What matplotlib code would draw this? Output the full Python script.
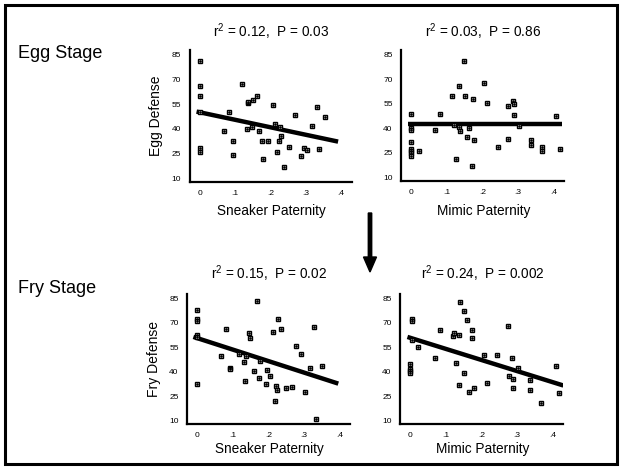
import matplotlib
matplotlib.use("Agg")
import matplotlib.pyplot as plt
import numpy as np
from matplotlib.patches import Rectangle, FancyArrow

plt.rcParams['font.family'] = ['Liberation Sans', 'DejaVu Sans']
plt.rcParams['mathtext.fontset'] = 'custom'
plt.rcParams['mathtext.rm'] = 'Liberation Sans'
plt.rcParams['mathtext.it'] = 'Liberation Sans'

# ---- data ----
egg_sneaker_x = [0.0, 0.0, 0.0, 0.0, 0.0, 0.0, 0.068, 0.083, 0.095, 0.095, 0.120, 0.133, 0.138, 0.138,
                 0.147, 0.152, 0.162, 0.169, 0.175, 0.179, 0.193, 0.207, 0.214, 0.220, 0.225, 0.227,
                 0.229, 0.239, 0.252, 0.269, 0.287, 0.295, 0.305, 0.319, 0.332, 0.337, 0.354]
egg_sneaker_y = [81.0, 66.2, 59.9, 50.4, 28.2, 25.8, 38.7, 50.4, 32.4, 23.9, 67.4, 39.7, 55.5, 56.5,
                 40.9, 57.5, 59.7, 38.7, 32.4, 21.7, 32.6, 54.7, 43.0, 26.0, 32.4, 40.9,
                 35.7, 16.5, 29.2, 48.2, 23.7, 28.2, 27.0, 41.9, 53.5, 28.0, 47.2]

egg_mimic_x = [0.0, 0.0, 0.0, 0.0, 0.0, 0.0, 0.0, 0.0, 0.021, 0.068, 0.082, 0.114, 0.121, 0.126,
               0.133, 0.134, 0.138, 0.147, 0.150, 0.158, 0.162, 0.171, 0.173, 0.176, 0.205, 0.214,
               0.243, 0.273, 0.273, 0.285, 0.289, 0.289, 0.303, 0.336, 0.337, 0.368, 0.367, 0.408, 0.418]
egg_mimic_y = [48.9, 40.2, 38.8, 31.5, 27.4, 26.0, 24.6, 23.2, 26.0, 38.8, 48.9, 59.4, 42.2, 21.2,
               65.5, 41.0, 38.0, 80.9, 59.4, 34.4, 39.9, 16.7, 57.8, 32.5, 67.4, 55.6,
               28.2, 33.3, 53.6, 56.8, 54.6, 48.3, 41.4, 32.5, 29.5, 28.2, 26.0, 47.3, 27.2]

fry_sneaker_x = [0.0, 0.0, 0.0, 0.0, 0.0, 0.0, 0.066, 0.081, 0.092, 0.093, 0.118, 0.131, 0.135, 0.137,
                 0.145, 0.149, 0.160, 0.167, 0.174, 0.177, 0.193, 0.196, 0.204, 0.213, 0.218, 0.223,
                 0.225, 0.226, 0.237, 0.249, 0.267, 0.277, 0.293, 0.303, 0.318, 0.330, 0.333, 0.350]
fry_sneaker_y = [78.1, 72.7, 71.4, 62.7, 61.5, 32.8, 49.8, 66.6, 42.6, 41.5, 50.8, 46.1, 34.1, 49.5,
                 63.6, 61.0, 40.8, 83.3, 36.3, 46.9, 32.5, 41.0, 37.5, 64.6, 22.4, 31.1,
                 28.9, 72.7, 66.6, 30.1, 30.9, 55.8, 51.0, 27.9, 42.3, 67.6, 11.0, 43.7]

fry_mimic_x = [0.004, 0.004, 0.004, 0.0, 0.0, 0.0, 0.0, 0.021, 0.070, 0.084, 0.119, 0.122, 0.129,
               0.136, 0.136, 0.141, 0.150, 0.152, 0.161, 0.164, 0.173, 0.175, 0.178, 0.207, 0.215,
               0.245, 0.275, 0.278, 0.287, 0.290, 0.290, 0.304, 0.337, 0.338, 0.368, 0.409, 0.419]
fry_mimic_y = [72.5, 71.1, 59.6, 45.0, 41.5, 40.3, 39.1, 55.3, 48.8, 65.6, 61.8, 63.8, 45.6,
               62.6, 31.9, 82.6, 77.3, 39.3, 72.1, 27.8, 65.6, 60.6, 29.8, 50.1, 33.1,
               50.1, 67.9, 37.3, 48.8, 35.9, 29.8, 42.5, 34.9, 28.8, 21.1, 43.5, 26.8]

# regression lines: intercept, slope, x range
line_intercepts = [50.0, 42.5, 60.7, 60.9]
line_slopes = [-45.4, 0.0, -70.3, -67.9]
line_x0 = [-0.009, -0.008, -0.011, -0.008]
line_x1 = [0.392, 0.423, 0.397, 0.431]

titles = ["r$^2$ = 0.12,  P = 0.03", "r$^2$ = 0.03,  P = 0.86",
          "r$^2$ = 0.15,  P = 0.02", "r$^2$ = 0.24,  P = 0.002"]
xlabels = ["Sneaker Paternity", "Mimic Paternity", "Sneaker Paternity", "Mimic Paternity"]
ylabels = ["Egg Defense", None, "Fry Defense", None]
row_labels = ["Egg Stage", "Fry Stage"]
xticks = [0, 0.1, 0.2, 0.3, 0.4]
xticklabels = ["0", ".1", ".2", ".3", ".4"]
yticks = [10, 25, 40, 55, 70, 85]

W, H = 621, 468
fig = plt.figure(figsize=(W / 100, H / 100), dpi=100)


def fx(px):
    return px / W


def fy(py):
    return 1 - py / H


# axes boxes in pixels: left, right, top, bottom
boxes = [(189.5, 351.5, 50, 181.5), (401, 564, 50, 180.5),
         (187, 350, 294, 424), (400, 563, 294, 424)]
title_baselines = [36.5, 36.5, 279, 279]
xlabel_baselines = [215, 215, 453, 453]
xs = [egg_sneaker_x, egg_mimic_x, fry_sneaker_x, fry_mimic_x]
ys = [egg_sneaker_y, egg_mimic_y, fry_sneaker_y, fry_mimic_y]

for i, (l, r, t, b) in enumerate(boxes):
    ax = fig.add_axes([fx(l), fy(b), (r - l) / W, (b - t) / H])
    ax.set_xlim(-0.029, 0.43)
    ax.set_ylim(8.0, 87.8)
    for s in ['top', 'right']:
        ax.spines[s].set_visible(False)
    for s in ['left', 'bottom']:
        ax.spines[s].set_linewidth(1.6)
    ax.set_xticks(xticks)
    ax.set_xticklabels(xticklabels)
    ax.set_yticks(yticks)
    ax.tick_params(length=0, labelsize=6, pad=6)
    ax.plot(xs[i], ys[i], linestyle='none', marker='s', markersize=3.4,
            markerfacecolor='white', markeredgecolor='black', markeredgewidth=1.0,
            zorder=3, clip_on=False)
    ax.plot(xs[i], ys[i], linestyle='none', marker='o', markersize=0.9,
            color='black', zorder=4, clip_on=False)
    lx = np.array([line_x0[i], line_x1[i]])
    ax.plot(lx, line_intercepts[i] + line_slopes[i] * lx, color='black', lw=3.2,
            solid_capstyle='butt', zorder=2)
    cx = (l + r) / 2 + 1
    fig.text(fx(cx), fy(title_baselines[i]), titles[i], fontsize=9.8,
             ha='center', va='baseline')
    fig.text(fx(cx), fy(xlabel_baselines[i]), xlabels[i], fontsize=9.8,
             ha='center', va='baseline')
    if ylabels[i]:
        ax.set_ylabel(ylabels[i], fontsize=10, labelpad=6)

fig.text(fx(18), fy(58), row_labels[0], fontsize=13, va='baseline', ha='left')
fig.text(fx(18), fy(293), row_labels[1], fontsize=13, va='baseline', ha='left')

# arrow between rows
fig.patches.append(FancyArrow(fx(370), fy(213), 0, -(59 / H), width=3.4 / W,
                              head_width=13 / W, head_length=15 / H,
                              length_includes_head=True, color='black',
                              transform=fig.transFigure, figure=fig))

# outer frame
fig.patches.append(Rectangle((fx(5), fy(463.5)), 611.5 / W, 458.5 / H, fill=False,
                             edgecolor='black', lw=2.2, transform=fig.transFigure, figure=fig))

fig.savefig("out.png", dpi=100)
